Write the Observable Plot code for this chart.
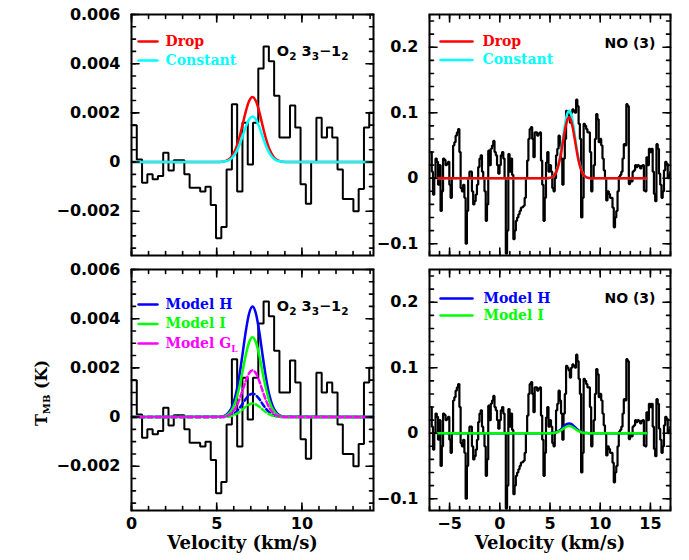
<!DOCTYPE html>
<html><head><meta charset="utf-8">
<script src="https://cdn.jsdelivr.net/npm/d3@7"></script>
<script src="https://cdn.jsdelivr.net/npm/@observablehq/plot@0.6"></script>
<style>
body{margin:0;background:#fff;}
#fig{position:relative;width:689px;height:560px;background:#fff;overflow:hidden;}
#fig svg{position:absolute;left:0;top:0;}
#ylab{position:absolute;left:42px;top:393px;transform:translate(-50%,-50%) rotate(-90deg);font:bold 16px "DejaVu Serif";white-space:nowrap;color:#000;}
#ylab sub{font-size:10px;vertical-align:-3px;}
</style></head><body><div id="fig"><div id="ylab">T<sub>MB</sub> (K)</div></div>
<script>
// ---------- data ----------
// O2 3_3-1_2 spectrum (channel start, width, T_MB per channel)
const o2ChanStart = 0, o2ChanWidth = 0.31;
const o2Tmb = [0.0015, 0.0001, -0.00084, -0.0005, -0.0007, -0.00057, 0.00038, -0.00034, 0.00007, 0.00007,
  -0.0005, -0.00105, -0.00105, -0.0012, -0.001, -0.00175, -0.0031, -0.00264, -0.0003, 0.00235,
  -0.0012, 0.0016, -0.0001, 0.0016, 0.0038, 0.0047, 0.0041, 0.0027, 0.001, 0.001,
  0.0023, 0.0014, -0.0009, -0.0017, 0.0, 0.0018, 0.001, 0.0014, 0.001, -0.0003,
  -0.0015, -0.0015, -0.002, -0.0011, 0.0014, 0.002];
// NO (3) spectrum
const noChanStart = -6.9, noChanWidth = 0.125;
const noTmb = [
  0.04, 0.01, -0.025, 0.0, 0.03, 0.025, -0.01, 0.02, -0.05, -0.02,
  0.03, 0.028, 0.02, 0.022, 0.025, -0.01, -0.03, 0.0, 0.05, 0.055,
  0.065, 0.07, 0.075, 0.04, -0.015, -0.02, -0.01, -0.03, -0.1, -0.05,
  0.0, 0.01, 0.01, -0.02, -0.04, -0.035, -0.025, -0.01, 0.017, 0.03,
  0.035, 0.01, 0.0, -0.02, -0.065, -0.04, 0.042, 0.02, 0.045, 0.05,
  0.057, 0.04, 0.035, 0.02, 0.007, 0.02, 0.035, 0.04, 0.03, 0.0,
  -0.115, -0.08, 0.037, 0.01, 0.03, 0.005, -0.093, -0.08, -0.065, -0.06,
  -0.055, -0.05, -0.045, -0.044, -0.042, -0.03, 0.0, 0.027, 0.06, 0.075,
  0.078, 0.06, 0.032, 0.07, 0.07, 0.065, 0.068, 0.07, 0.027, -0.01,
  -0.065, -0.03, 0.024, 0.04, 0.01, 0.02, 0.01, -0.015, -0.02, 0.0,
  0.035, 0.045, 0.065, 0.05, 0.03, -0.01, 0.03, 0.06, 0.103, 0.1,
  0.096, 0.085, 0.1, 0.105, 0.103, 0.1, 0.12, 0.11, 0.083, 0.06,
  -0.06, -0.03, 0.083, 0.08, 0.075, 0.07, 0.07, 0.04, -0.02, 0.0,
  0.02, 0.06, 0.098, 0.09, 0.055, 0.06, 0.05, 0.03, 0.012, 0.0,
  -0.034, -0.02, -0.024, -0.03, -0.03, -0.045, -0.075, -0.06, -0.05, -0.02,
  0.002, 0.005, 0.01, 0.03, 0.052, 0.05, 0.113, 0.11, -0.009, 0.0,
  -0.005, 0.01, 0.012, 0.02, 0.017, 0.02, 0.019, 0.015, 0.019, 0.02,
  -0.019, -0.02, 0.032, 0.02, 0.045, 0.04, 0.045, 0.01, -0.024, -0.035,
  0.052, 0.045, 0.007, -0.01, -0.03, -0.02, 0.012, 0.025, 0.022, 0.0,
  0.005, 0.01];

// O2 model curves (sampled)
const o2ModelVel = [0, 5.1, 5.3, 5.5, 5.7, 5.9, 6.1, 6.3, 6.5, 6.7, 6.9, 7.1, 7.3, 7.5, 7.7, 7.9, 8.1, 8.3, 8.5, 8.7, 8.9, 9.1, 14.2];
const o2Drop     = [0, 0, 0.00001, 0.00004, 0.0001, 0.00025, 0.00051, 0.00092, 0.00146, 0.00204, 0.00248, 0.00265, 0.00248, 0.00204, 0.00146, 0.00092, 0.00051, 0.00025, 0.0001, 0.00004, 0.00001, 0, 0];
const o2Constant = [0, 0, 0.00001, 0.00003, 0.00007, 0.00017, 0.00035, 0.00064, 0.00102, 0.00142, 0.00173, 0.00185, 0.00173, 0.00142, 0.00102, 0.00064, 0.00035, 0.00017, 0.00007, 0.00003, 0.00001, 0, 0];
const o2ModelH   = [0, 0.00001, 0.00002, 0.00007, 0.00018, 0.00042, 0.00086, 0.00156, 0.00248, 0.00346, 0.00421, 0.0045, 0.00421, 0.00346, 0.00248, 0.00156, 0.00086, 0.00042, 0.00018, 0.00007, 0.00002, 0.00001, 0];
const o2ModelI   = [0, 0, 0.00002, 0.00005, 0.00013, 0.0003, 0.00062, 0.00113, 0.00179, 0.0025, 0.00304, 0.00325, 0.00304, 0.0025, 0.00179, 0.00113, 0.00062, 0.0003, 0.00013, 0.00005, 0.00002, 0, 0];
const o2ModelGL  = [0, 0, 0.00001, 0.00003, 0.00007, 0.00018, 0.00036, 0.00066, 0.00105, 0.00146, 0.00178, 0.0019, 0.00178, 0.00146, 0.00105, 0.00066, 0.00036, 0.00018, 0.00007, 0.00003, 0.00001, 0, 0];
const o2ModelHd  = [0, 0, 0, 0.00001, 0.00004, 0.00009, 0.00018, 0.00033, 0.00052, 0.00073, 0.00089, 0.00095, 0.00089, 0.00073, 0.00052, 0.00033, 0.00018, 0.00009, 0.00004, 0.00001, 0, 0, 0];
const o2ModelId  = [0, 0, 0, 0.00001, 0.00002, 0.00005, 0.00011, 0.00019, 0.0003, 0.00042, 0.00051, 0.00055, 0.00051, 0.00042, 0.0003, 0.00019, 0.00011, 0.00005, 0.00002, 0.00001, 0, 0, 0];

// NO model curves (sampled)
const noModelVel = [-6.2, 4.7, 4.9, 5.1, 5.3, 5.5, 5.7, 5.9, 6.1, 6.3, 6.5, 6.7, 6.9, 7.1, 7.3, 7.5, 7.7, 7.9, 8.1, 8.3, 8.5, 8.7, 8.9, 9.1, 14.6];
const noDrop     = [0, 0.0001, 0.0004, 0.001, 0.0027, 0.0061, 0.0126, 0.0232, 0.0382, 0.0565, 0.0745, 0.088, 0.093, 0.088, 0.0745, 0.0565, 0.0382, 0.0232, 0.0126, 0.0061, 0.0027, 0.001, 0.0004, 0.0001, 0];
const noConstant = [0, 0.0001, 0.0004, 0.0011, 0.0029, 0.0068, 0.0139, 0.0256, 0.0423, 0.0625, 0.0825, 0.0974, 0.103, 0.0974, 0.0825, 0.0625, 0.0423, 0.0256, 0.0139, 0.0068, 0.0029, 0.0011, 0.0004, 0.0001, 0];
const noModelH   = [0, 0, 0.0001, 0.0002, 0.0004, 0.001, 0.002, 0.0037, 0.0062, 0.0091, 0.012, 0.0142, 0.015, 0.0142, 0.012, 0.0091, 0.0062, 0.0037, 0.002, 0.001, 0.0004, 0.0002, 0.0001, 0, 0];
const noModelI   = [0, 0, 0, 0.0001, 0.0003, 0.0007, 0.0015, 0.0027, 0.0045, 0.0067, 0.0088, 0.0104, 0.011, 0.0104, 0.0088, 0.0067, 0.0045, 0.0027, 0.0015, 0.0007, 0.0003, 0.0001, 0, 0, 0];

// axes / ticks
const o2XDomain = [0, 14.2], o2YDomain = [-0.0038, 0.006];
const noXDomain = [-7, 17], noYDomain = [-0.118, 0.25];
const o2XMajor = [0, 5, 10];
const o2XLabels = ["0", "5", "10"];
const o2YMajor = [-0.002, 0, 0.002, 0.004, 0.006];
const o2YLabels = ["\u22120.002", "0", "0.002", "0.004", "0.006"];
const noXMajor = [-5, 0, 5, 10, 15];
const noXLabels = ["\u22125", "0", "5", "10", "15"];
const noYMajor = [-0.1, 0, 0.1, 0.2];
const noYLabels = ["\u22120.1", "0", "0.1", "0.2"];
const o2XMinor = d3.range(0, 15, 1);
const o2YMinor = d3.range(-7, 13).map(k => k * 0.0005);
const noXMinor = d3.range(-7, 18, 1);
const noYMinor = d3.range(-5, 13).map(k => k * 0.02);

// ---------- helpers ----------
const tickShape = {draw(ctx, l) { ctx.moveTo(0, 0); ctx.lineTo(0, -l); }};
const tickFont = {fontFamily: "DejaVu Sans", fontWeight: "bold", fontSize: 16};
const labFont = {fontFamily: "DejaVu Serif", fontWeight: "bold", fontSize: 14};

function stepPoints(start, width, values) {
  const pts = values.map((t, i) => ({v: start + i * width, t}));
  pts.push({v: start + values.length * width, t: values[values.length - 1]});
  return pts;
}
function curvePoints(vel, vals) { return vel.map((v, i) => ({v, t: vals[i]})); }

function boxTicks(vals, len, axis) {
  const o = {anchor: "start", shape: tickShape, length: len, stroke: "black", strokeWidth: 1.6};
  if (axis === "x") return [
    Plot.vector(vals, {...o, x: d => d, frameAnchor: "bottom", rotate: 0}),
    Plot.vector(vals, {...o, x: d => d, frameAnchor: "top", rotate: 180})
  ];
  return [
    Plot.vector(vals, {...o, y: d => d, frameAnchor: "left", rotate: 90}),
    Plot.vector(vals, {...o, y: d => d, frameAnchor: "right", rotate: -90})
  ];
}

function legend(entries, {lineDx, lineLen, textDx, dy0, step}) {
  const marks = [];
  entries.forEach((e, i) => {
    marks.push(Plot.vector([0], {frameAnchor: "top-left", dx: lineDx, dy: dy0 + i * step, rotate: 90,
      length: lineLen, anchor: "start", shape: tickShape, stroke: e.color, strokeWidth: 2.5}));
    marks.push(Plot.text([e.label], {frameAnchor: "top-left", dx: textDx, dy: dy0 + i * step,
      textAnchor: "start", lineAnchor: "middle", fill: e.color, ...labFont}));
  });
  return marks;
}

function panel(cfg) {
  const xLab = new Map(cfg.xMajor.map((d, i) => [d, cfg.xLabels[i]]));
  const yLab = new Map(cfg.yMajor.map((d, i) => [d, cfg.yLabels[i]]));
  const marks = [
    ...cfg.lines,
    ...boxTicks(cfg.xMinor, 4, "x"), ...boxTicks(cfg.xMajor, 7.5, "x"),
    ...boxTicks(cfg.yMinor, 4, "y"), ...boxTicks(cfg.yMajor, 7.5, "y"),
    Plot.axisY(cfg.yMajor, {anchor: "left", tickSize: 0, tickPadding: 11, label: null,
      tickFormat: d => yLab.get(d), ...tickFont}),
    ...cfg.extra,
    Plot.frame({stroke: "black", strokeWidth: 2})
  ];
  if (cfg.showX) {
    marks.push(Plot.axisX(cfg.xMajor, {anchor: "bottom", tickSize: 0, tickPadding: 7, label: null,
      tickFormat: d => xLab.get(d), ...tickFont}));
    marks.push(Plot.text(["Velocity (km/s)"], {frameAnchor: "bottom", dx: cfg.labelDx || 0, dy: 26, lineAnchor: "top",
      fontFamily: "DejaVu Serif", fontWeight: "bold", fontSize: 18}));
  }
  return Plot.plot({
    width: 689, height: 560,
    marginTop: cfg.m[0], marginRight: cfg.m[1], marginBottom: cfg.m[2], marginLeft: cfg.m[3],
    style: {background: "transparent", overflow: "visible"},
    x: {domain: cfg.xDomain, axis: null},
    y: {domain: cfg.yDomain, axis: null},
    marks
  });
}

const stepOpts = (w) => ({x: "v", y: "t", curve: "step-after", stroke: "black", strokeWidth: w,
  strokeLinejoin: "miter", strokeLinecap: "butt", clip: true});
const modelOpts = (color, dash) => ({x: "v", y: "t", curve: "monotone-x", stroke: color,
  strokeWidth: 2.5, clip: true, strokeDasharray: dash || null});

const o2Data = stepPoints(o2ChanStart, o2ChanWidth, o2Tmb);
const noData = stepPoints(noChanStart, noChanWidth, noTmb);

const o2Title = t => Plot.text([t], {frameAnchor: "top-right", dx: -25, dy: 37, textAnchor: "end",
  lineAnchor: "middle", ...tickFont, fontSize: 14.5});
const noTitle = t => Plot.text([t], {frameAnchor: "top-right", dx: -15, dy: 29, textAnchor: "end",
  lineAnchor: "middle", ...tickFont, fontSize: 14});

const o2Base = {xDomain: o2XDomain, yDomain: o2YDomain, xMajor: o2XMajor, xLabels: o2XLabels,
  yMajor: o2YMajor, yLabels: o2YLabels, xMinor: o2XMinor, yMinor: o2YMinor, labelDx: -10};
const noBase = {xDomain: noXDomain, yDomain: noYDomain, xMajor: noXMajor, xLabels: noXLabels,
  yMajor: noYMajor, yLabels: noYLabels, xMinor: noXMinor, yMinor: noYMinor, labelDx: 0};

const tl = panel({...o2Base, m: [14, 316, 305, 131], showX: false,
  lines: [
    Plot.line(o2Data, stepOpts(2)),
    Plot.line(curvePoints(o2ModelVel, o2Drop), modelOpts("#ff0000")),
    Plot.line(curvePoints(o2ModelVel, o2Constant), modelOpts("#00ffff"))
  ],
  extra: [
    ...legend([{label: "Drop", color: "#ff0000"}, {label: "Constant", color: "#00ffff"}],
      {lineDx: 7, lineLen: 19, textDx: 34, dy0: 27, step: 19}),
    o2Title("O2 33-12")
  ]});

const tr = panel({...noBase, m: [14, 19, 305, 429], showX: false,
  lines: [
    Plot.line(noData, stepOpts(2.2)),
    Plot.line(curvePoints(noModelVel, noConstant), modelOpts("#00ffff")),
    Plot.line(curvePoints(noModelVel, noDrop), modelOpts("#ff0000"))
  ],
  extra: [
    ...legend([{label: "Drop", color: "#ff0000"}, {label: "Constant", color: "#00ffff"}],
      {lineDx: 11, lineLen: 32, textDx: 53, dy0: 27, step: 18.5}),
    noTitle("NO (3)")
  ]});

const bl = panel({...o2Base, m: [269, 316, 50, 131], showX: true,
  lines: [
    Plot.line(o2Data, stepOpts(2)),
    Plot.line(curvePoints(o2ModelVel, o2ModelH), modelOpts("#0000ff")),
    Plot.line(curvePoints(o2ModelVel, o2ModelI), modelOpts("#00ff00")),
    Plot.line(curvePoints(o2ModelVel, o2ModelHd), modelOpts("#0000ff", "5,3")),
    Plot.line(curvePoints(o2ModelVel, o2ModelId), modelOpts("#00ff00", "5,3")),
    Plot.line(curvePoints(o2ModelVel, o2ModelGL), modelOpts("#ff00ff", "5,3"))
  ],
  extra: [
    ...legend([{label: "Model H", color: "#0000ff"}, {label: "Model I", color: "#00ff00"},
      {label: "Model GL", color: "#ff00ff"}],
      {lineDx: 7, lineLen: 19, textDx: 34, dy0: 35, step: 19.5}),
    o2Title("O2 33-12")
  ]});

const br = panel({...noBase, m: [269, 19, 50, 429], showX: true,
  lines: [
    Plot.line(noData, stepOpts(2.2)),
    Plot.line(curvePoints(noModelVel, noModelH), modelOpts("#0000ff")),
    Plot.line(curvePoints(noModelVel, noModelI), modelOpts("#00ff00"))
  ],
  extra: [
    ...legend([{label: "Model H", color: "#0000ff"}, {label: "Model I", color: "#00ff00"}],
      {lineDx: 11, lineLen: 32, textDx: 54, dy0: 29, step: 17}),
    noTitle("NO (3)")
  ]});

// subscripts in text labels
function richText(svg, plain, html) {
  d3.select(svg).selectAll("text").filter(function() { return this.textContent === plain; }).html(html);
}
const sub = (s) => `<tspan dy="4" font-size="10.5">${s}</tspan>`;
const o2Html = `O${sub("2")}<tspan dy="-4"> 3</tspan>${sub("3")}<tspan dy="-4">\u22121</tspan>${sub("2")}`;
for (const svg of [tl, bl]) richText(svg, "O2 33-12", o2Html);
richText(bl, "Model GL", `Model G<tspan dy="4" font-size="9">L</tspan>`);

const fig = document.getElementById("fig");
for (const svg of [tl, tr, bl, br]) fig.appendChild(svg);
</script>
</body></html>
